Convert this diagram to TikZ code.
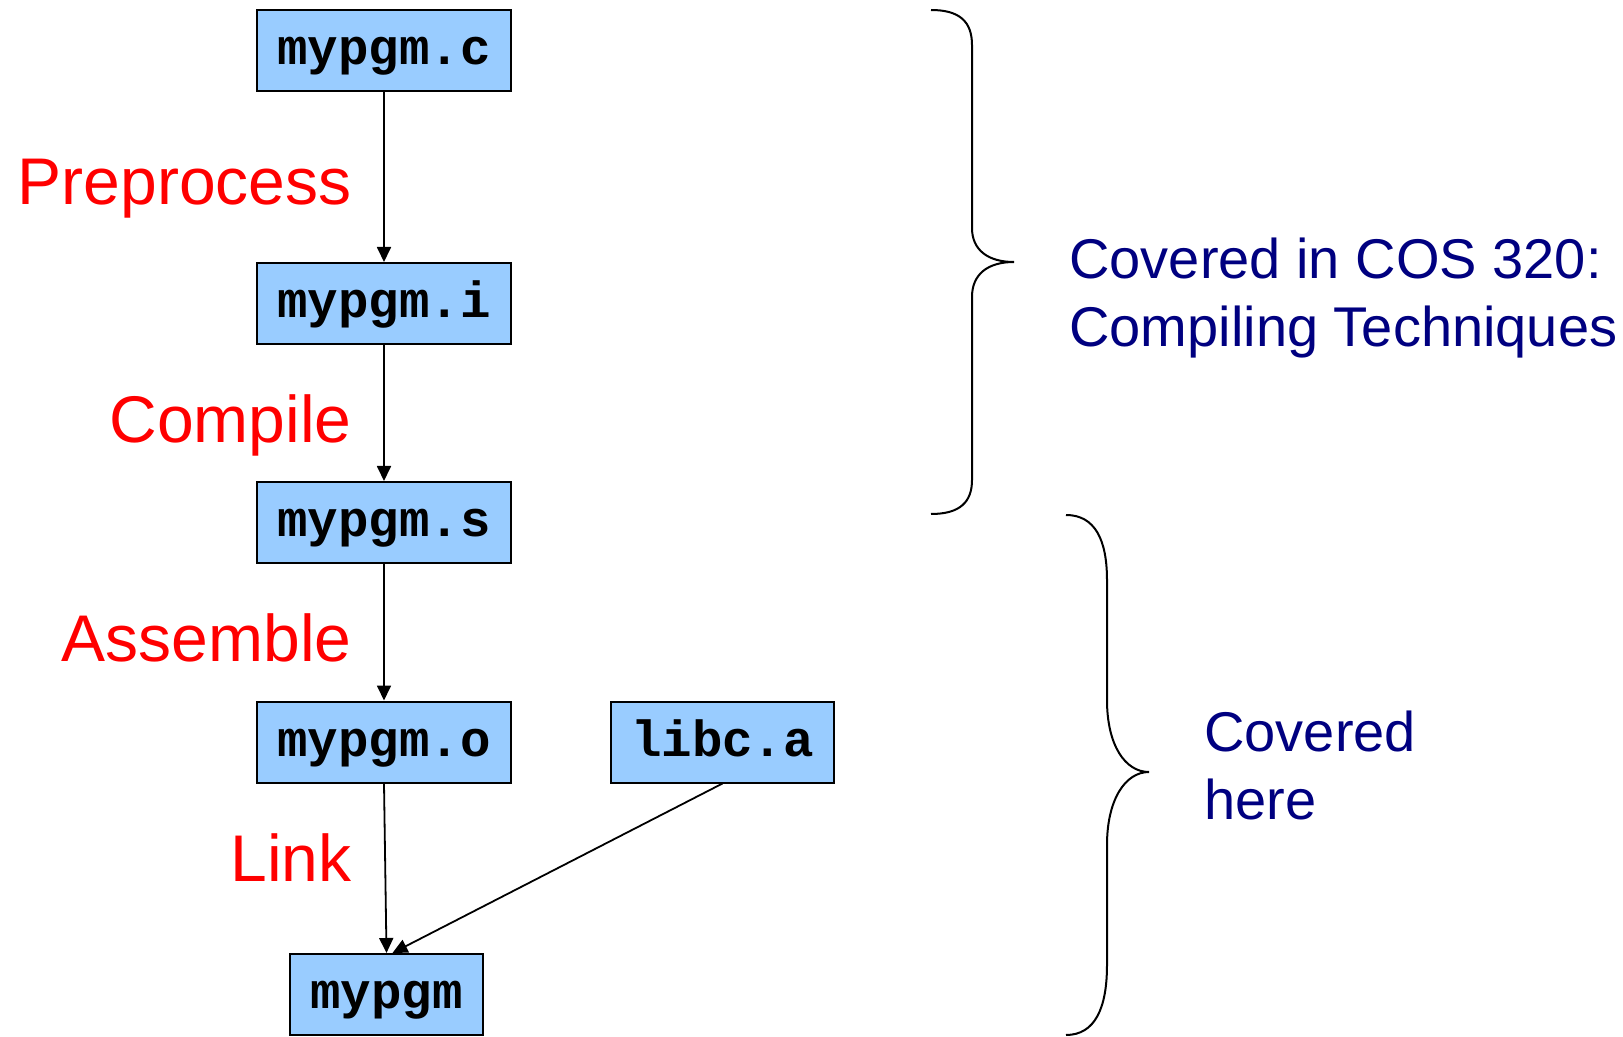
\documentclass[tikz,border=0pt]{standalone}
\usepackage{fontspec}
\setmainfont{Liberation Sans}
\setmonofont{Liberation Mono}
\usepackage{tikz}
\usetikzlibrary{positioning,calc,arrows.meta}
\definecolor{boxblue}{HTML}{99CCFF}
\definecolor{navy}{HTML}{000080}

\begin{document}
\begin{tikzpicture}[x=0.5pt, y=-0.5pt,
    file/.style={draw, line width=1pt, fill=boxblue, minimum height=40.5pt,
      inner sep=0pt, text height=19pt, text depth=5pt,
      font=\fontsize{25.4}{30}\selectfont\ttfamily\bfseries},
    stage/.style={anchor=base east, text=red, inner sep=0pt,
      font=\fontsize{33}{40}\selectfont},
    note/.style={anchor=west, align=left, text=navy, inner sep=0pt,
      font=\fontsize{28}{34}\selectfont},
    flow/.style={line width=0.9pt, -{Triangle[length=7.5pt,width=7pt]}},
    brace/.style={line width=1pt}]
    \useasboundingbox (0,0) rectangle (1623,1037);

      % Files
      \node[file, minimum width=127pt] (mypgmc) at (384, 50.5) {mypgm.c};
      \node[file, minimum width=127pt] (mypgmi) at (384, 303.5) {mypgm.i};
      \node[file, minimum width=127pt] (mypgms) at (384, 522.5) {mypgm.s};
      \node[file, minimum width=127pt] (mypgmo) at (384, 742) {mypgm.o};
      \node[file, minimum width=111.5pt] (libca) at (722.5, 742) {libc.a};
      \node[file, minimum width=96.5pt] (mypgm) at (386.5, 994.5) {mypgm};

      % Steps
      \draw[flow] (mypgmc) -- (mypgmi);
      \draw[flow] (mypgmi) -- (mypgms);
      \draw[flow] (mypgms) -- (mypgmo);
      \draw[flow] (mypgmo.south) -- (mypgm.north);
      \draw[flow] (libca.south) -- ([xshift=3pt]mypgm.north);

      \node[stage] (preprocess) at (352, 205) {Preprocess};
      \node[stage] (compile) at (352, 443) {Compile};
      \node[stage] (assemble) at (352, 661) {Assemble};
      \node[stage] (link) at (352, 881) {Link};

      % Braces
      \draw[brace] (931,10) .. controls (960,10) and (972,22) .. (972,45)
        -- (972,228) .. controls (972,250) and (988,262) .. (1014,262)
        .. controls (988,262) and (972,274) .. (972,297)
        -- (972,480) .. controls (972,502) and (960,514) .. (931,514);
      \draw[brace] (1066,515) .. controls (1095,515) and (1107,540) .. (1107,580)
        -- (1107,700) .. controls (1107,745) and (1125,772) .. (1149,772)
        .. controls (1125,772) and (1107,800) .. (1107,845)
        -- (1107,965) .. controls (1107,1008) and (1095,1035) .. (1066,1035);

      \node[note] (cos) at (1069, 298) {Covered in COS 320:\\Compiling Techniques};
      \node[note] (here) at (1204, 765) {Covered\\here};
  \end{tikzpicture}
\end{document}
